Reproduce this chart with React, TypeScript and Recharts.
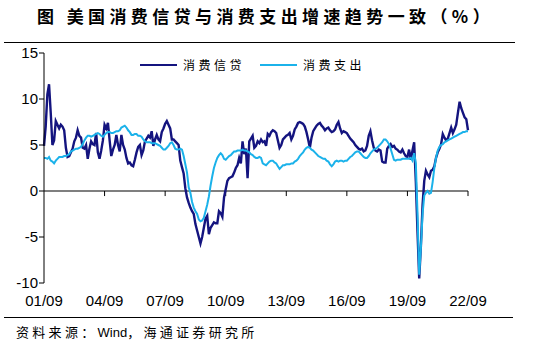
import { Line, LineChart, ReferenceLine, XAxis, YAxis } from 'recharts';

// monthly yoy %, 2001/09 .. 2022/09
const credit = [
  4.9, 7.0, 10.5, 11.6, 8.5, 5.0, 5.5, 7.6, 7.2, 6.8, 7.2, 7.0,
  6.6, 4.7, 3.7, 3.8, 4.2, 4.6, 5.4, 5.8, 6.6, 6.0, 5.8, 4.7,
  4.6, 5.0, 3.5, 4.6, 5.4, 5.1, 5.0, 6.3, 4.2, 3.5, 4.4, 5.5,
  7.2, 6.8, 7.4, 5.5, 3.8, 4.5, 5.0, 6.1, 5.0, 4.3, 6.1, 5.0,
  4.5, 3.6, 3.0, 3.1, 2.8, 2.7, 3.4, 4.2, 4.8, 5.0, 3.9, 4.4,
  5.4, 5.7, 6.0, 5.8, 6.5, 4.9, 5.6, 6.1, 5.6, 5.4, 6.4, 6.8,
  7.3, 7.6, 7.2, 6.8, 5.6, 5.6, 5.4, 5.2, 5.0, 3.3, 2.6, 1.9,
  0.3, -0.7, -1.3, -1.8, -2.2, -2.5, -3.6, -4.3, -5.0, -5.7, -5.0, -4.0,
  -3.0, -2.7, -4.7, -4.0, -3.7, -3.4, -3.5, -3.5, -2.2, -2.4, -2.8, -0.7,
  0.2, 1.1, 1.4, 1.5, 1.6, 2.0, 2.5, 2.8, 3.6, 3.0, 5.4, 4.0,
  4.6, 1.4, 5.4, 5.7, 6.0, 4.7, 4.9, 5.4, 5.2, 5.6, 5.3, 5.4,
  4.9, 6.2, 6.0, 6.4, 6.6, 6.5, 6.3, 5.5, 4.7, 5.0, 5.6, 5.8,
  6.0, 6.1, 6.3, 5.6, 6.0, 6.7, 7.0, 7.4, 7.5, 7.4, 7.3, 7.0,
  6.4, 5.6, 4.7, 5.8, 6.5, 6.8, 7.1, 7.3, 7.4, 7.1, 6.9, 6.6,
  6.8, 6.9, 6.6, 6.4, 6.5, 6.7, 7.2, 7.5, 6.8, 6.3, 6.5, 6.4,
  6.3, 6.0, 5.7, 5.5, 5.3, 5.0, 4.8, 4.6, 4.5, 4.6, 4.3, 4.4,
  4.9, 6.0, 6.5, 5.5, 4.7, 4.4, 4.3, 4.5, 4.4, 3.2, 3.1, 3.1,
  4.6, 4.9, 5.1, 4.8, 4.9, 4.6, 4.5, 4.3, 4.2, 4.5, 4.1, 3.8,
  3.7, 4.5, 3.4, 4.4, 5.3, 1.0, -4.5, -9.5, -6.0, -1.5, 1.1, 2.2,
  1.8, 1.5, 2.2, 2.3, 2.7, 3.6, 4.2, 4.6, 5.1, 6.2, 5.8, 5.5,
  5.7, 6.3, 6.9, 6.3, 6.7, 7.2, 8.5, 9.7, 9.0, 8.5, 8.0, 7.8,
  6.6,
];

const spending = [
  3.6, 3.6, 3.5, 3.7, 3.3, 3.2, 3.0, 3.3, 3.5, 3.7, 3.7, 3.7,
  3.8, 3.8, 3.9, 4.0, 4.3, 4.4, 4.5, 4.6, 4.6, 4.7, 4.8, 5.1,
  5.5, 5.8, 6.0, 6.0, 5.9, 6.0, 6.1, 6.2, 6.3, 6.2, 6.0, 5.9,
  6.1, 6.3, 6.4, 6.4, 6.3, 6.3, 6.4, 6.5, 6.5, 6.6, 6.9, 7.0,
  7.1, 6.9, 6.6, 6.4, 6.1, 6.1, 6.2, 6.2, 6.0, 6.0, 5.9, 5.6,
  5.4, 5.3, 5.3, 5.3, 5.2, 5.2, 5.2, 5.1, 5.0, 4.9, 4.7, 4.5,
  4.5, 4.7, 4.9, 5.2, 5.3, 5.0, 4.6, 4.5, 4.5, 4.6, 4.5, 3.8,
  2.9, 2.0, 0.4, -0.2, -1.2, -1.8, -2.2, -2.5, -3.1, -3.3, -3.2, -2.9,
  -2.2, -1.5, -0.6, 0.6, 1.6, 2.5, 3.1, 3.6, 3.9, 4.1, 3.9, 3.5,
  3.4, 3.6, 3.8, 3.9, 4.1, 4.3, 4.3, 4.4, 4.4, 4.4, 4.5, 4.4,
  4.4, 4.3, 4.2, 4.0, 3.9, 3.7, 3.6, 3.6, 3.7, 3.6, 3.0, 2.9,
  2.8, 3.0, 3.2, 3.3, 3.3, 3.1, 3.0, 2.7, 2.4, 2.6, 2.8, 2.8,
  2.9, 2.9, 2.9, 3.0, 3.0, 3.2, 3.3, 3.5, 3.8, 4.0, 4.2, 4.5,
  4.7, 4.8, 4.7, 4.5, 4.4, 4.2, 4.0, 3.8, 3.7, 3.6, 3.5, 3.5,
  3.3, 3.2, 2.9, 2.7, 2.9, 3.2, 3.3, 3.2, 3.3, 3.3, 3.2, 3.3,
  3.3, 3.5, 3.7, 3.8, 4.0, 4.2, 4.3, 4.3, 4.1, 3.9, 3.7, 3.6,
  3.6, 3.8, 4.1, 4.3, 4.5, 4.6, 4.7, 4.9, 5.1, 5.3, 5.6, 5.6,
  5.4, 5.1, 4.6, 4.0, 3.4, 3.3, 3.4, 3.4, 3.4, 3.5, 3.5, 3.5,
  3.5, 3.5, 3.6, 3.3, 4.1, 3.0, -2.5, -9.1, -6.2, -2.5, -0.5, -0.2,
  0.0, -0.3, -0.2, 1.0, 2.5, 3.6, 4.4, 4.8, 5.0, 5.1, 5.3, 5.4,
  5.5, 5.6, 5.7, 5.8, 5.9, 6.0, 6.1, 6.2, 6.3, 6.4, 6.4, 6.5,
  6.5,
];

const xTicks = [0, 36, 72, 108, 144, 180, 216, 252];
const xTickLabels = ['01/09', '04/09', '07/09', '10/09', '13/09', '16/09', '19/09', '22/09'];
const yTicks = [-10, -5, 0, 5, 10, 15];
const seriesNames = ['消费信贷', '消费支出'];
const seriesColors = ['#14147f', '#1bb2ea'];

const data = credit.map((v, i) => ({ i, credit: v, spending: spending[i] }));

const cjk = '"Noto Sans CJK SC", sans-serif';
const latin = '"Liberation Sans", Arial, sans-serif';

function LegendBox() {
  return (
    <div style={{ position: 'absolute', left: 140, top: 56, display: 'flex', alignItems: 'center', fontFamily: cjk, fontSize: 12, letterSpacing: 3.5, lineHeight: '18px', color: '#000' }}>
      {seriesNames.map((name, k) => (
        <div key={name} style={{ display: 'flex', alignItems: 'center', marginRight: 15 }}>
          <svg width={37} height={4}>
            <line x1={0} y1={2} x2={37} y2={2} stroke={seriesColors[k]} strokeWidth={2} />
          </svg>
          <span style={{ marginLeft: 6 }}>{name}</span>
        </div>
      ))}
    </div>
  );
}

export default function App() {
  return (
    <div style={{ position: 'absolute', left: 0, top: 0, width: 533, height: 351, background: '#fff' }}>
      <div style={{ position: 'absolute', left: 37, top: 5, fontFamily: cjk, fontWeight: 700, fontSize: 17, letterSpacing: 4.4, lineHeight: '22px', whiteSpace: 'nowrap' }}>
        图 美国消费信贷与消费支出增速趋势一致（%）
      </div>
      <div style={{ position: 'absolute', left: 4, top: 42, width: 511, borderTop: '1.5px solid #000' }} />

      <div style={{ position: 'absolute', left: 0, top: 0 }}>
        <LineChart width={533} height={351} data={data} margin={{ top: 53, right: 65, left: 0, bottom: 38 }}>
          <XAxis
            dataKey="i"
            type="number"
            domain={[0, 252]}
            ticks={xTicks}
            interval={0}
            tickFormatter={(v) => xTickLabels[xTicks.indexOf(v)]}
            axisLine={false}
            tickLine={false}
            tickMargin={6}
            height={30}
            tick={{ fill: '#000', fontSize: 15, fontFamily: latin }}
          />
          <YAxis
            domain={[-10, 15]}
            ticks={yTicks}
            interval={0}
            width={44}
            axisLine={{ stroke: '#000' }}
            tickLine={{ stroke: '#000' }}
            tickSize={5}
            tickMargin={1}
            tick={{ fill: '#000', fontSize: 15, fontFamily: latin }}
          />
          <ReferenceLine y={0} stroke="#000" strokeWidth={1.2} />
          {xTicks.slice(1).map((t) => (
            <ReferenceLine key={t} segment={[{ x: t, y: 0 }, { x: t, y: -0.55 }]} stroke="#000" />
          ))}
          <Line dataKey="credit" stroke={seriesColors[0]} strokeWidth={2.4} dot={false} isAnimationActive={false} />
          <Line dataKey="spending" stroke={seriesColors[1]} strokeWidth={2} dot={false} isAnimationActive={false} />
        </LineChart>
      </div>
      <LegendBox />

      <div style={{ position: 'absolute', left: 4, top: 317, width: 509, borderTop: '1.5px solid #000' }} />
      <div style={{ position: 'absolute', left: 16, top: 322, fontFamily: cjk, fontSize: 13, letterSpacing: 3.3, lineHeight: '20px', whiteSpace: 'nowrap' }}>
        资料来源：<span style={{ fontFamily: latin, letterSpacing: 0 }}>Wind</span>，海通证券研究所
      </div>
    </div>
  );
}
